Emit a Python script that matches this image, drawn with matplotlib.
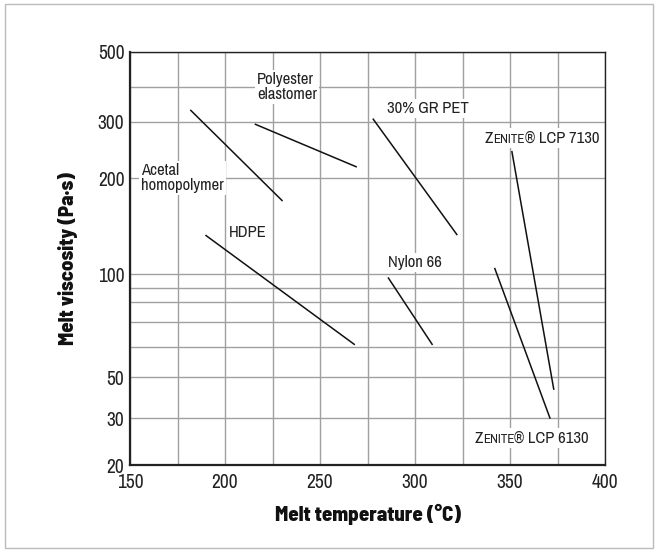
import numpy as np
import matplotlib
matplotlib.use("Agg")
import matplotlib.pyplot as plt
from matplotlib.offsetbox import TextArea, HPacker, AnnotationBbox
from matplotlib.patches import Rectangle

plt.rcParams["font.family"] = ["Archivo Narrow", "DejaVu Sans"]

# polymer lines: (temp start, temp end), (visc start, visc end)
acetal_t = [182, 230]
acetal_v = [330, 170]
polyester_t = [216, 269]
polyester_v = [295, 217]
pet_t = [278, 322]
pet_v = [307, 133]
hdpe_t = [190, 268]
hdpe_v = [132, 61]
nylon_t = [286, 309]
nylon_v = [97, 61]
lcp7130_t = [351, 373]
lcp7130_v = [242, 43]
lcp6130_t = [342, 371]
lcp6130_v = [104, 30]

y_major = [20, 30, 50, 100, 200, 300, 500]
y_minor = [60, 70, 80, 90, 400]
x_major = [150, 200, 250, 300, 350, 400]
x_minor = [175, 225, 275, 325, 375]

# the printed chart has an uneven log axis; follow its gridline spacing
knot_vals = np.log10([20, 30, 50, 60, 70, 80, 90, 100, 200, 300, 400, 500])
knot_pos = np.array([0, 47, 88, 118, 143, 163, 177, 191, 287, 343, 378, 413], float)


def fwd(v):
    v = np.clip(np.asarray(v, float), 1e-3, None)
    return np.interp(np.log10(v), knot_vals, knot_pos, left=-1e3, right=1e3)


def inv(p):
    return 10 ** np.interp(np.asarray(p, float), knot_pos, knot_vals)


fig = plt.figure(figsize=(6.58, 5.52), dpi=100)
ax = fig.add_axes([0.1976, 0.1576, 0.7219, 0.7482])
fig.patches.append(Rectangle((0.008, 0.008), 0.984, 0.984, transform=fig.transFigure,
                             fill=False, ec="#bbbbbb", lw=1))

ax.set_yscale("function", functions=(fwd, inv))
ax.set_xlim(150, 400)
ax.set_ylim(20, 500)

ax.set_xticks(x_major)
ax.set_xticks(x_minor, minor=True)
ax.set_yticks(y_major)
ax.set_yticklabels([str(v) for v in y_major])
ax.set_yticks(y_minor, minor=True)
ax.yaxis.set_minor_formatter(plt.NullFormatter())
ax.tick_params(which="both", length=0, labelsize=14, colors="#222222")
ax.tick_params(axis="x", pad=6)
ax.tick_params(axis="y", pad=4)
ax.grid(which="both", color="#a0a0a0", lw=1)
ax.set_axisbelow(True)

for s in ["left", "bottom"]:
    ax.spines[s].set_linewidth(1.6)
for s in ["top", "right"]:
    ax.spines[s].set_linewidth(1.0)
for s in ax.spines.values():
    s.set_color("#222222")

for t, v in [(acetal_t, acetal_v), (polyester_t, polyester_v), (pet_t, pet_v),
             (hdpe_t, hdpe_v), (nylon_t, nylon_v), (lcp7130_t, lcp7130_v),
             (lcp6130_t, lcp6130_v)]:
    ax.plot(t, v, color="#111111", lw=1.1, zorder=3)

box = dict(facecolor="white", edgecolor="none", pad=1.5)
kw = dict(fontsize=12, color="#222222", bbox=box, linespacing=1.05, zorder=2)
ax.text(156, 200, "Acetal\nhomopolymer", ha="left", va="center", **kw)
ax.text(217, 400, "Polyester\nelastomer", ha="left", va="center", **kw)
ax.text(285, 336, "30% GR PET", ha="left", va="center", **kw)
ax.text(202, 135, "HDPE", ha="left", va="center", **kw)
ax.text(286, 109, "Nylon 66", ha="left", va="center", **kw)


def zenite(x, y, num):
    parts = [TextArea("Z", textprops=dict(fontsize=12, color="#222222")),
             TextArea("ENITE", textprops=dict(fontsize=9.5, color="#222222")),
             TextArea("® LCP " + num, textprops=dict(fontsize=12, color="#222222"))]
    pack = HPacker(children=parts, align="baseline", pad=1, sep=0)
    ab = AnnotationBbox(pack, (x, y), xycoords="data", box_alignment=(0, 0.5),
                        frameon=True, bboxprops=dict(fc="white", ec="none"), pad=0.1)
    ab.set_zorder(2)
    ax.add_artist(ab)


zenite(336, 267, "7130")
zenite(330.5, 25.2, "6130")

lab = dict(fontsize=15, fontweight=800, family=["Barlow Semi Condensed", "DejaVu Sans"],
           color="#111111")
ax.set_xlabel("Melt temperature (°C)", labelpad=8, **lab)
ax.set_ylabel("Melt viscosity (Pa·s)", labelpad=14, **lab)

fig.savefig("out.png", dpi=100)
